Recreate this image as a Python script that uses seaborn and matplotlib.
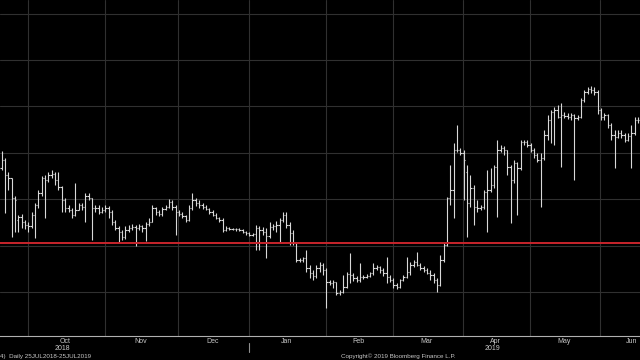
import numpy as np
import pandas as pd
import matplotlib
matplotlib.use('Agg')
import matplotlib.pyplot as plt
import matplotlib.transforms as mtransforms
from matplotlib.ticker import MultipleLocator
import seaborn as sns

# daily bars, one per trading day
opens = [58.8, 59.6, 58.1, 57.8, 55.8, 53.6, 53.9, 53.4, 53.1, 53.0,
         54.1, 55.1, 56.3, 57.8, 57.6, 58.1, 58.2, 57.6, 56.9, 55.6,
         54.8, 54.6, 54.1, 54.6, 55.1, 54.9, 56.0, 55.8, 54.8, 54.8,
         54.4, 54.6, 54.8, 54.4, 53.4, 52.8, 52.4, 51.9, 52.6, 52.8,
         52.9, 52.8, 53.0, 52.8, 53.2, 53.4, 54.8, 54.4, 54.2, 54.7,
         54.9, 55.4, 54.9, 54.4, 54.2, 54.0, 53.6, 54.8, 55.6, 55.3,
         55.1, 54.9, 54.7, 54.4, 54.1, 53.8, 53.6, 52.6, 52.8, 52.7,
         52.7, 52.7, 52.6, 52.4, 52.3, 52.1, 52.2, 52.8, 52.6, 52.4,
         52.0, 52.9, 53.0, 53.1, 53.6, 54.1, 53.1, 52.3, 51.3, 49.6,
         49.6, 49.8, 48.8, 48.3, 48.0, 48.8, 49.1, 48.6, 47.4, 47.3,
         47.4, 46.3, 46.4, 46.9, 48.2, 48.1, 47.8, 47.6, 47.9, 47.9,
         48.0, 48.3, 48.8, 48.9, 48.6, 48.3, 47.9, 47.6, 47.1, 46.9,
         47.6, 47.9, 48.4, 49.1, 49.4, 49.1, 48.8, 48.6, 48.3, 48.1,
         47.6, 47.1, 49.6, 51.1, 55.8, 56.6, 60.6, 60.6, 60.3, 58.4,
         55.3, 56.8, 54.9, 54.8, 54.9, 56.4, 56.6, 57.1, 58.9, 60.6,
         60.8, 60.6, 58.9, 57.6, 59.3, 58.8, 61.4, 61.4, 61.1, 60.6,
         60.1, 59.6, 59.8, 62.1, 63.6, 64.4, 64.6, 63.9, 64.1, 64.0,
         63.9, 64.1, 63.8, 63.9, 65.6, 66.4, 66.7, 66.6, 66.4, 64.6,
         63.9, 64.1, 63.1, 62.1, 61.9, 62.3, 62.1, 61.6, 62.0, 62.3,
         63.6]
highs = [60.5, 59.8, 58.4, 57.8, 56.0, 54.1, 54.2, 53.6, 53.4, 54.4,
         55.3, 56.6, 58.0, 58.1, 58.4, 58.6, 58.4, 58.4, 57.0, 55.8,
         55.1, 54.8, 57.3, 55.3, 55.3, 56.3, 56.3, 55.8, 55.1, 55.1,
         54.9, 55.1, 55.0, 54.6, 53.6, 53.0, 52.6, 53.0, 53.1, 53.2,
         53.1, 53.2, 53.1, 53.4, 53.8, 55.1, 54.9, 54.6, 54.9, 55.1,
         55.7, 55.6, 55.1, 54.6, 54.4, 54.1, 55.1, 56.3, 55.8, 55.6,
         55.3, 55.1, 54.8, 54.6, 54.3, 53.9, 53.8, 53.0, 52.9, 52.8,
         52.8, 52.8, 52.7, 52.5, 52.4, 52.3, 53.1, 53.0, 52.9, 52.8,
         53.4, 53.2, 53.5, 53.8, 54.4, 54.4, 53.4, 52.6, 51.4, 49.8,
         49.9, 50.6, 49.1, 48.6, 49.1, 49.4, 49.3, 48.8, 47.6, 47.6,
         47.4, 46.6, 48.1, 48.4, 50.3, 48.3, 48.0, 49.3, 48.1, 48.2,
         48.4, 49.3, 49.1, 49.0, 48.8, 49.9, 48.1, 47.8, 47.3, 47.7,
         48.1, 49.9, 49.4, 49.6, 50.4, 49.3, 49.0, 48.8, 48.6, 48.3,
         47.8, 50.1, 51.3, 55.9, 59.1, 61.3, 63.1, 60.8, 60.6, 59.1,
         58.1, 57.1, 55.6, 55.1, 56.6, 58.6, 58.8, 59.1, 61.6, 61.1,
         61.0, 60.6, 59.1, 59.6, 59.4, 61.6, 61.6, 61.6, 61.3, 60.8,
         60.3, 60.3, 62.6, 64.1, 64.6, 64.9, 65.1, 65.3, 64.4, 64.3,
         64.3, 64.2, 64.1, 65.8, 66.6, 66.9, 67.0, 66.9, 66.6, 64.8,
         64.3, 64.2, 63.3, 62.6, 62.6, 62.6, 62.3, 62.3, 63.1, 63.9,
         63.9]
lows = [58.6, 54.3, 56.6, 51.9, 52.4, 52.4, 52.8, 52.7, 52.4, 52.8,
        51.8, 54.8, 56.0, 53.8, 57.4, 57.8, 57.1, 56.6, 54.4, 54.4,
        54.4, 53.8, 54.0, 54.6, 54.6, 53.4, 55.6, 51.6, 54.4, 54.2,
        54.3, 54.4, 53.8, 53.1, 52.6, 51.3, 51.6, 51.7, 52.4, 52.6,
        51.0, 52.6, 52.4, 51.5, 53.0, 53.4, 54.1, 54.0, 54.0, 54.6,
        54.8, 54.6, 52.1, 54.0, 53.8, 53.4, 53.5, 54.6, 55.0, 54.8,
        54.7, 54.6, 54.2, 54.0, 53.7, 53.4, 52.4, 52.5, 52.6, 52.6,
        52.5, 52.5, 52.3, 52.1, 52.0, 52.0, 50.6, 50.6, 52.1, 49.8,
        51.8, 52.6, 52.4, 51.4, 53.4, 52.8, 51.1, 51.1, 49.4, 49.4,
        49.4, 48.4, 47.8, 47.6, 47.8, 48.4, 48.1, 44.8, 47.1, 46.8,
        46.1, 46.1, 46.3, 46.8, 47.3, 47.5, 47.4, 47.4, 47.7, 47.8,
        47.9, 48.1, 48.6, 48.3, 48.0, 47.3, 47.4, 46.8, 46.7, 46.8,
        47.5, 47.8, 48.1, 48.9, 49.0, 48.6, 48.4, 48.2, 47.6, 47.3,
        46.4, 47.0, 49.4, 51.0, 55.1, 53.8, 60.4, 60.1, 55.6, 51.9,
        54.9, 53.1, 54.4, 54.6, 54.7, 52.4, 56.4, 56.8, 53.9, 60.4,
        60.1, 58.1, 53.3, 57.3, 54.1, 58.6, 61.1, 60.9, 60.4, 59.8,
        59.4, 54.9, 59.6, 61.6, 61.3, 61.1, 63.8, 58.9, 63.8, 63.7,
        63.6, 57.6, 63.6, 63.8, 65.4, 66.2, 66.3, 66.1, 64.2, 63.6,
        63.6, 62.8, 61.6, 58.8, 61.8, 61.8, 61.4, 61.5, 58.8, 62.1,
        63.3]
closes = [59.6, 58.1, 57.8, 55.8, 55.6, 53.9, 53.4, 53.1, 53.0, 54.1,
          55.1, 56.3, 57.8, 57.6, 58.1, 58.2, 57.6, 56.9, 55.6, 54.8,
          54.6, 54.1, 54.6, 55.1, 54.9, 56.0, 55.8, 54.8, 54.8, 54.4,
          54.6, 54.8, 54.4, 53.4, 52.8, 52.4, 51.9, 52.6, 52.8, 52.9,
          52.8, 53.0, 52.8, 53.2, 53.4, 54.8, 54.4, 54.2, 54.7, 54.9,
          55.4, 54.9, 54.4, 54.2, 54.0, 53.6, 54.8, 55.6, 55.3, 55.1,
          54.9, 54.7, 54.4, 54.1, 53.8, 53.6, 52.6, 52.8, 52.7, 52.7,
          52.7, 52.6, 52.4, 52.3, 52.1, 52.2, 52.8, 52.6, 52.4, 52.0,
          52.9, 53.0, 53.1, 53.6, 54.1, 53.1, 52.3, 51.3, 49.6, 49.6,
          49.8, 48.8, 48.3, 48.0, 48.8, 49.1, 48.6, 47.4, 47.3, 47.4,
          46.3, 46.4, 46.9, 48.2, 48.1, 47.8, 47.6, 47.9, 47.9, 48.0,
          48.3, 48.8, 48.9, 48.6, 48.3, 47.9, 47.6, 47.1, 46.9, 47.6,
          47.9, 48.4, 49.1, 49.4, 49.1, 48.8, 48.6, 48.3, 48.1, 47.6,
          47.1, 49.6, 51.1, 55.8, 56.6, 60.6, 60.6, 60.3, 59.6, 55.3,
          56.8, 54.9, 54.8, 54.9, 56.4, 56.6, 57.1, 58.9, 60.6, 60.8,
          60.6, 58.9, 57.6, 59.3, 58.8, 61.4, 61.4, 61.1, 60.6, 60.1,
          59.6, 59.8, 62.1, 63.6, 64.4, 64.6, 63.9, 64.1, 64.0, 63.9,
          64.1, 63.8, 63.9, 65.6, 66.4, 66.7, 66.6, 66.4, 64.6, 63.9,
          64.1, 63.1, 62.1, 61.9, 62.3, 62.1, 61.6, 62.0, 62.3, 63.6,
          63.6]

# first bar of each month (bar index) and the labels
month_starts = [8, 31, 53, 74, 97, 117, 138, 158, 179]
month_labels = ['Oct', 'Nov', 'Dec', 'Jan', 'Feb', 'Mar', 'Apr', 'May', 'Jun']
year_labels = {'Oct': '2018', 'Apr': '2019'}
red_level = 51.27

df = pd.DataFrame({'open': opens, 'high': highs, 'low': lows, 'close': closes})
df['i'] = np.arange(len(df))

sns.set_theme(style='dark', rc={'axes.facecolor': 'black', 'figure.facecolor': 'black'})
plt.rcParams['font.family'] = ['Liberation Sans', 'DejaVu Sans']

fig = plt.figure(figsize=(6.4, 3.6), dpi=100)
ax = fig.add_axes([0, 0.0675, 1, 0.9325])
ax.set_facecolor('black')

bar_col = '#d8d8d8'
ax.vlines(df['i'], df['low'], df['high'], color=bar_col, lw=0.8, zorder=3)
ax.hlines(df['open'], df['i'] - 0.4, df['i'], color=bar_col, lw=0.8, zorder=3)
ax.hlines(df['close'], df['i'], df['i'] + 0.4, color=bar_col, lw=0.8, zorder=3)

ax.axhline(red_level, color='#c8242c', lw=1.4, zorder=4)

ax.set_xlim(-0.45, 190.6)
ax.set_ylim(42.03, 75.6)

# gridlines at month boundaries, labels mid-month
bounds = [s - 0.2 for s in month_starts]
ax.set_xticks(bounds)
ax.set_xticklabels([])
ends = month_starts[1:] + [month_starts[-1] + 19]
mids = [(a + b) / 2 - 0.5 for a, b in zip(month_starts, ends)]
ax.set_xticks(mids, minor=True)
ax.set_xticklabels(month_labels, minor=True, fontsize=5, color='#c8c8c8')
ax.tick_params(axis='x', which='both', length=0, pad=1.5)
ax.yaxis.set_major_locator(MultipleLocator(4.64))
ax.set_yticklabels([])
ax.tick_params(axis='y', length=0)
ax.grid(True, color='#303030', lw=0.8)
ax.set_axisbelow(True)

for s in ['top', 'right', 'left']:
    ax.spines[s].set_visible(False)
ax.spines['bottom'].set_color('#b0b0b0')
ax.spines['bottom'].set_linewidth(0.8)

trans = mtransforms.blended_transform_factory(ax.transData, ax.transAxes)
for lab, m in zip(month_labels, mids):
    if lab in year_labels:
        ax.text(m - 0.8, -0.037, year_labels[lab], transform=trans, fontsize=5,
                color='#c8c8c8', ha='center', va='center')
jan = bounds[month_labels.index('Jan')]
ax.plot([jan, jan], [-0.022, -0.05], transform=trans, color='#909090', lw=0.8, clip_on=False)

fig.text(0.0, 0.004, '4)  Daily 25JUL2018-25JUL2019', fontsize=4.5, color='#c8c8c8', ha='left', va='bottom')
fig.text(0.533, 0.004, 'Copyright\u00a9 2019 Bloomberg Finance L.P.', fontsize=4.5, color='#c8c8c8',
         ha='left', va='bottom')

fig.savefig('out.png', dpi=100, facecolor='black')
